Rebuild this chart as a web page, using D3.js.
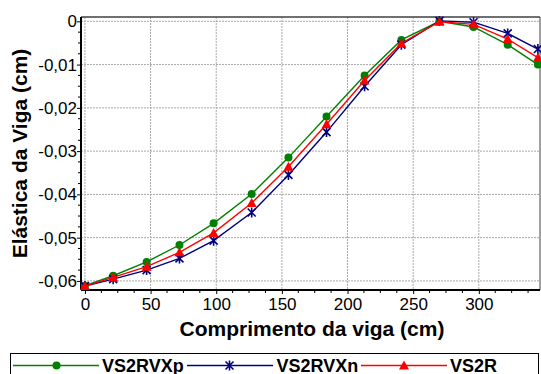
<!DOCTYPE html>
<html><head><meta charset="utf-8">
<script src="https://cdn.jsdelivr.net/npm/d3@7"></script>
<style>body{margin:0;background:#fff}svg{display:block;font-family:"Liberation Sans",Arial,sans-serif}</style>
</head><body><svg id="c" width="541" height="374"></svg>
<script>
const xValues = [0, 21.5, 47, 72, 98, 127, 155, 184, 213, 241, 270, 296, 322, 345];
const seriesNames = ["VS2RVXp", "VS2RVXn", "VS2R"];
const vs2rvxp = [-0.0611, -0.0588, -0.0556, -0.0517, -0.0467, -0.0399, -0.0315, -0.0220, -0.0125, -0.0043, 0.0000, -0.0013, -0.0054, -0.0100];
const vs2rvxn = [-0.0612, -0.0596, -0.0575, -0.0548, -0.0507, -0.0442, -0.0355, -0.0256, -0.0150, -0.0054, 0.0001, -0.0002, -0.0028, -0.0064];
const vs2r    = [-0.0612, -0.0592, -0.0567, -0.0534, -0.0489, -0.0420, -0.0336, -0.0238, -0.0137, -0.0051, -0.0001, -0.0007, -0.0041, -0.0084];
const xTicks = [0, 50, 100, 150, 200, 250, 300];
const yTicks = [0, -0.01, -0.02, -0.03, -0.04, -0.05, -0.06];
const colors = ["#008000", "#000080", "#ff0000"];
const markers = ["circle", "star", "triangle"];

const svg = d3.select("#c");
const L = 81, R = 540, T = 17, B = 290;
const x = d3.scaleLinear().domain([-3, 346.6]).range([L, R]);
const y = d3.scaleLinear().domain([0.001, -0.0621]).range([T, B]);
const loc = d3.formatLocale({decimal: ",", thousands: ".", grouping: [3], currency: ["", ""], minus: "-"});
const yfmt = v => v === 0 ? "0" : loc.format(".2f")(v);

// gridlines
const grid = svg.append("g");
grid.selectAll("line.gx").data(xTicks).join("line")
  .attr("x1", d => x(d)).attr("x2", d => x(d)).attr("y1", T).attr("y2", B)
  .attr("stroke", "#a8a8a8").attr("stroke-width", 1).attr("stroke-dasharray", "2,1");
grid.selectAll("line.gy").data(yTicks).join("line")
  .attr("x1", L).attr("x2", R).attr("y1", d => y(d)).attr("y2", d => y(d))
  .attr("stroke", "#a8a8a8").attr("stroke-width", 1).attr("stroke-dasharray", "2,1");

// plot border (top/right)
svg.append("line").attr("x1", L).attr("x2", R).attr("y1", T).attr("y2", T).attr("stroke", "#404040").attr("stroke-width", 1.5);
svg.append("line").attr("x1", R).attr("x2", R).attr("y1", T).attr("y2", B).attr("stroke", "#404040").attr("stroke-width", 1);

// axes
const xAxis = d3.axisBottom(x).tickValues(xTicks).tickSize(4).tickPadding(4).tickFormat(d3.format("d"));
const gx = svg.append("g").attr("transform", `translate(0,${B})`).call(xAxis);
const xMinor = d3.range(12.5, 346, 12.5).filter(v => v % 50 !== 0);
gx.selectAll("line.minor").data(xMinor).join("line").attr("class", "minor")
  .attr("x1", d => x(d)).attr("x2", d => x(d)).attr("y1", 0).attr("y2", 3).attr("stroke", "#000");
const yAxis = d3.axisLeft(y).tickValues(yTicks).tickSize(4).tickPadding(0).tickFormat(yfmt);
const gy = svg.append("g").attr("transform", `translate(${L},0)`).call(yAxis);
const yMinor = d3.range(0, -0.0621, -0.0025).filter(v => Math.abs(Math.round(v * 10000)) % 100 !== 0);
gy.selectAll("line.minor").data(yMinor).join("line").attr("class", "minor")
  .attr("x1", 0).attr("x2", -3).attr("y1", d => y(d)).attr("y2", d => y(d)).attr("stroke", "#000");
[gx, gy].forEach(g => {
  g.select(".domain").attr("stroke", "#000").attr("stroke-width", 2);
  g.selectAll(".tick text").attr("font-size", 17).attr("fill", "#000").attr("font-family", "Liberation Sans, Arial, sans-serif");
  g.selectAll(".tick line").attr("stroke", "#000");
});
gx.select(".domain").attr("d", `M${L},0H${R}`);
gy.select(".domain").attr("d", `M0,${T}V${B}`);

// titles
svg.append("text").attr("x", 312).attr("y", 336).attr("text-anchor", "middle")
  .attr("font-size", 21).attr("font-weight", "bold").text("Comprimento da viga (cm)");
svg.append("text").attr("transform", "translate(27,153.5) rotate(-90)").attr("text-anchor", "middle")
  .attr("font-size", 21).attr("font-weight", "bold").text("Elástica da Viga (cm)");

// marker drawing
function drawMarker(g, type, color, cx, cy) {
  if (type === "circle") {
    g.append("circle").attr("cx", cx).attr("cy", cy).attr("r", 4).attr("fill", color);
  } else if (type === "triangle") {
    g.append("path").attr("d", `M${cx},${cy-5}L${cx+5},${cy+4}L${cx-5},${cy+4}Z`).attr("fill", color);
  } else {
    const s = 4;
    g.append("path").attr("d", `M${cx-s},${cy-s}L${cx+s},${cy+s}M${cx-s},${cy+s}L${cx+s},${cy-s}M${cx},${cy-s-1}V${cy+s+1}`)
      .attr("stroke", color).attr("stroke-width", 1.6).attr("fill", "none");
  }
}

const allSeries = [vs2rvxp, vs2rvxn, vs2r];
const line = d3.line().x(d => x(d[0])).y(d => y(d[1]));
allSeries.forEach((vals, i) => {
  const pts = xValues.map((xv, j) => [xv, vals[j]]);
  const g = svg.append("g");
  g.append("path").datum(pts).attr("d", line).attr("fill", "none").attr("stroke", colors[i]).attr("stroke-width", 1.4);
  pts.forEach(p => drawMarker(g, markers[i], colors[i], x(p[0]), y(p[1])));
});

// legend
const lg = svg.append("g");
lg.append("rect").attr("x", 10.5).attr("y", 353.5).attr("width", 528).attr("height", 30)
  .attr("fill", "#fff").attr("stroke", "#000").attr("stroke-width", 1);
const legX = [[13, 99, 56.5, 102], [187, 273, 229.5, 276.5], [361, 447, 404, 450]];
seriesNames.forEach((n, i) => {
  const [a, b, m, t] = legX[i];
  lg.append("line").attr("x1", a).attr("x2", b).attr("y1", 365.5).attr("y2", 365.5).attr("stroke", colors[i]).attr("stroke-width", 1.4);
  drawMarker(lg, markers[i], colors[i], m, 365.5);
  lg.append("text").attr("x", t).attr("y", 371.5).attr("font-size", 18).attr("font-weight", "bold").text(n);
});
</script></body></html>
